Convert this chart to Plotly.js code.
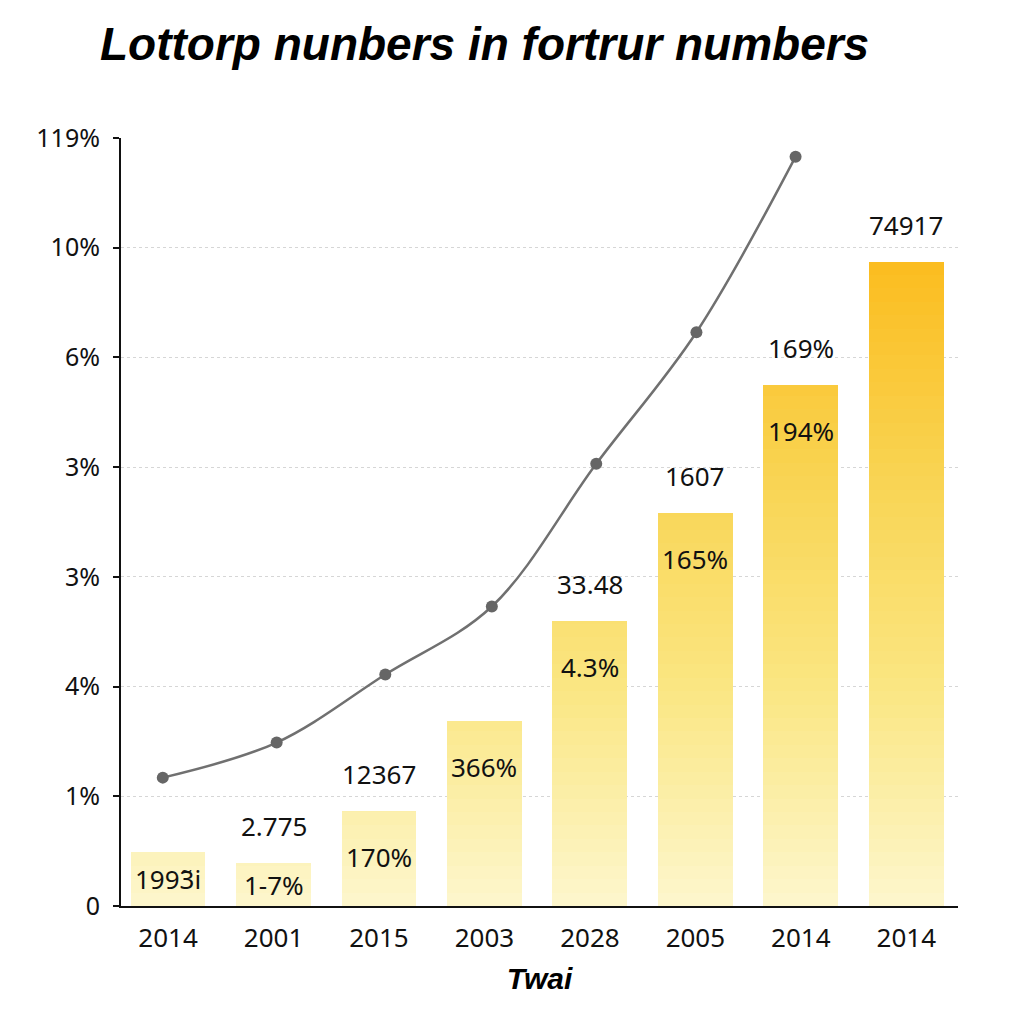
<!DOCTYPE html>
<html>
<head>
<meta charset="utf-8">
<script src="https://cdn.plot.ly/plotly-3.0.1.min.js"></script>
<style>html,body{margin:0;padding:0;background:#fff;}#chart{width:1024px;height:1024px;}</style>
</head>
<body>
<div id="chart"></div>
<script>
// ---- data ----
const years = ["2014", "2001", "2015", "2003", "2028", "2005", "2014", "2014"];
const barValues = [0.49, 0.39, 0.87, 1.69, 2.60, 3.58, 4.75, 5.87];
const topLabels = ["", "2.775", "12367", "", "33.48", "1607", "169%", "74917"];
const innerLabels = ["1993\u0303i", "1-7%", "170%", "366%", "4.3%", "165%", "194%", ""];
const lineX = [-0.05, 1.03, 2.06, 3.07, 4.06, 5.01, 5.95];
const lineY = [1.17, 1.49, 2.11, 2.73, 4.03, 5.23, 6.83];
const yTickVals = [0, 1, 2, 3, 4, 5, 6, 7];
const yTickText = ["0", "1%", "4%", "3%", "3%", "6%", "10%", "119%"];
const chartTitle = "Lottorp nunbers in fortrur numbers";
const xTitle = "Twai";

// ---- layout constants ----
const M = {l: 121, r: 66, t: 138, b: 118};
const yMax = 7;
const pxPerUnit = (1024 - M.t - M.b) / yMax;
const xIdx = years.map((_, i) => i);

// vertical gradient built from stacked bar layers
const stops = [
  [0, [253, 247, 205]],
  [2, [250, 230, 130]],
  [4, [249, 211, 80]],
  [6, [251, 187, 28]]
];
function colorAt(h) {
  for (let s = 0; s < stops.length - 1; s++) {
    const [h0, c0] = stops[s], [h1, c1] = stops[s + 1];
    if (h <= h1 || s === stops.length - 2) {
      const t = Math.max(0, Math.min(1, (h - h0) / (h1 - h0)));
      const c = c0.map((v, k) => Math.round(v + (c1[k] - v) * t));
      return `rgb(${c[0]},${c[1]},${c[2]})`;
    }
  }
}
const nLayers = 48;
const step = Math.max(...barValues) / nLayers + 0.0001;
const traces = [];
for (let k = 0; k < nLayers; k++) {
  traces.push({
    type: "bar",
    x: xIdx,
    y: barValues.map(v => Math.max(0, Math.min(step, v - k * step))),
    marker: {color: colorAt((k + 0.5) * step), line: {width: 0}},
    hoverinfo: "skip",
    showlegend: false
  });
}
traces.push({
  type: "scatter",
  mode: "lines+markers",
  x: lineX,
  y: lineY,
  line: {color: "#707070", width: 2.5, shape: "spline", smoothing: 1},
  marker: {color: "#666666", size: 12},
  hoverinfo: "skip",
  showlegend: false
});

const annFont = {family: "Noto Sans, Open Sans, sans-serif", size: 26, color: "#111"};
const annotations = [];
barValues.forEach((v, i) => {
  if (topLabels[i]) {
    annotations.push({x: i, y: v, xref: "x", yref: "y", text: topLabels[i], showarrow: false,
      yanchor: "bottom", yshift: 17, font: annFont});
  }
  if (innerLabels[i]) {
    const h = v * pxPerUnit;
    annotations.push({x: i, y: v, xref: "x", yref: "y", text: innerLabels[i], showarrow: false,
      yanchor: "middle", yshift: -Math.min(46, h / 2), font: annFont});
  }
});

const titleFont = "Liberation Sans, Arial, sans-serif";
const layout = {
  width: 1024, height: 1024,
  margin: M,
  paper_bgcolor: "#ffffff",
  plot_bgcolor: "#ffffff",
  barmode: "stack",
  bargap: 0.29,
  title: {
    text: chartTitle,
    x: 100 / 1024, xanchor: "left", xref: "container",
    y: 1 - 44 / 1024, yanchor: "middle", yref: "container",
    font: {family: titleFont, size: 46, weight: "bold", style: "italic", color: "#000"}
  },
  xaxis: {
    range: [-0.446, 7.49],
    tickvals: xIdx, ticktext: years,
    showgrid: false, zeroline: false,
    showline: true, linecolor: "#111", linewidth: 2,
    ticks: "", ticklabelstandoff: 8,
    tickfont: {family: "Noto Sans, Open Sans, sans-serif", size: 26, color: "#111"},
    title: {text: xTitle, standoff: 14,
      font: {family: titleFont, size: 30, weight: "bold", style: "italic", color: "#000"}},
    fixedrange: true
  },
  yaxis: {
    range: [0, yMax],
    tickvals: yTickVals, ticktext: yTickText,
    showgrid: true, gridcolor: "#d6d6d6", griddash: "dot", gridwidth: 1,
    zeroline: false,
    showline: true, linecolor: "#111", linewidth: 2,
    ticks: "outside", ticklen: 6, tickwidth: 2, tickcolor: "#111",
    ticklabelstandoff: 8,
    tickfont: {family: "Noto Sans, Open Sans, sans-serif", size: 25, color: "#111"},
    fixedrange: true
  },
  annotations: annotations
};

Plotly.newPlot("chart", traces, layout, {displayModeBar: false, staticPlot: true});
</script>
</body>
</html>
